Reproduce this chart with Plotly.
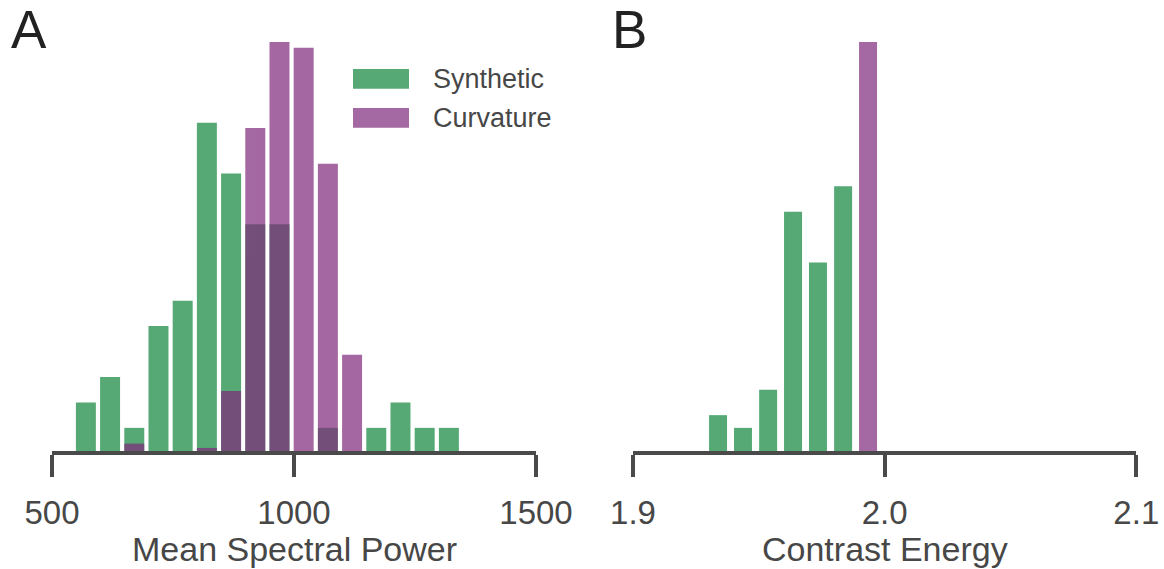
import plotly.graph_objects as go

W, H = 1164, 569

# ---- data ----
a_bin_centers = [570, 620, 670, 720, 770, 820, 870, 920, 970, 1020, 1070, 1120, 1170, 1220, 1270, 1320]
a_synthetic = [2, 3, 1, 5, 6, 13, 11, 9, 9, 0, 1, 0, 1, 2, 1, 1]
a_curvature = [0, 0, 0.38, 0, 0, 0.21, 2.45, 12.79, 16.17, 15.94, 11.38, 3.87, 0, 0, 0, 0]

b_bin_centers = [1.9338, 1.9437, 1.9537, 1.9636, 1.9735, 1.9835, 1.9934]
b_synthetic = [3, 2, 5, 19, 15, 21, 0]
b_curvature = [0, 0, 0, 0, 0, 0, 32.35]

a_ticks = [500, 1000, 1500]
b_ticks = [1.9, 2.0, 2.1]
b_ticktext = ["1.9", "2.0", "2.1"]

series_names = ["Synthetic", "Curvature"]

# ---- styles ----
GREEN = "rgb(86,168,117)"
PURPLE = "rgb(127,42,124)"
PURPLE_ALPHA = 0.71
AXIS = "#4a4a4a"
TEXT = "#474747"
FONT = "Liberation Sans"


def px_x(x):
    return x / W


def px_y(y):
    return (H - y) / H


fig = go.Figure()

fig.add_trace(go.Bar(x=a_bin_centers, y=a_synthetic, width=41.3, marker=dict(color=GREEN, line=dict(width=0)),
                     name=series_names[0], xaxis="x", yaxis="y", showlegend=False))
fig.add_trace(go.Bar(x=a_bin_centers, y=a_curvature, width=41.3, marker=dict(color=PURPLE, line=dict(width=0)),
                     opacity=PURPLE_ALPHA, name=series_names[1], xaxis="x", yaxis="y", showlegend=False))
fig.add_trace(go.Bar(x=b_bin_centers, y=b_synthetic, width=0.00715, marker=dict(color=GREEN, line=dict(width=0)),
                     name=series_names[0], xaxis="x2", yaxis="y2", showlegend=False))
fig.add_trace(go.Bar(x=b_bin_centers, y=b_curvature, width=0.00715, marker=dict(color=PURPLE, line=dict(width=0)),
                     opacity=PURPLE_ALPHA, name=series_names[1], xaxis="x2", yaxis="y2", showlegend=False))

ydom = [px_y(451), px_y(42)]
axis_common = dict(showgrid=False, zeroline=False, showline=True, linecolor=AXIS, linewidth=4,
                   ticks="outside", ticklen=22, tickwidth=4, tickcolor=AXIS, ticklabelstandoff=7,
                   tickfont=dict(family=FONT, size=33, color=TEXT), automargin=False,
                   fixedrange=True)

fig.update_layout(
    width=W, height=H,
    margin=dict(l=0, r=0, t=0, b=0, pad=0),
    paper_bgcolor="white", plot_bgcolor="white",
    barmode="overlay",
    showlegend=False,
    xaxis=dict(domain=[px_x(52), px_x(536)], range=[500, 1500], tickvals=a_ticks, anchor="y", **axis_common),
    yaxis=dict(domain=ydom, range=[0.09, 16.17], visible=False, anchor="x", fixedrange=True),
    xaxis2=dict(domain=[px_x(633), px_x(1136.3)], range=[1.9, 2.1], tickvals=b_ticks, ticktext=b_ticktext,
                anchor="y2", **axis_common),
    yaxis2=dict(domain=ydom, range=[0.18, 32.35], visible=False, anchor="x2", fixedrange=True),
)

# axis titles
for xc, txt in [(294, "Mean Spectral Power"), (884.7, "Contrast Energy")]:
    fig.add_annotation(x=px_x(xc), y=px_y(549), xref="paper", yref="paper", text=txt, showarrow=False,
                       xanchor="center", yanchor="middle", font=dict(family=FONT, size=34, color=TEXT))

# panel letters
for xl, txt in [(9, "A"), (610, "B")]:
    fig.add_annotation(x=px_x(xl), y=px_y(30), xref="paper", yref="paper", text=txt, showarrow=False,
                       xanchor="left", yanchor="middle", font=dict(family=FONT, size=53, color="#222222"))

# legend (manual, to match the wide swatches)
for (y0, y1, yc), col, op, name in [((69, 88.7, 79), GREEN, 1.0, series_names[0]),
                                    ((108, 127.7, 118), PURPLE, PURPLE_ALPHA, series_names[1])]:
    fig.add_shape(type="rect", xref="paper", yref="paper", x0=px_x(353), x1=px_x(409), y0=px_y(y1), y1=px_y(y0),
                  fillcolor=col, opacity=op, line=dict(width=0))
    fig.add_annotation(x=px_x(431), y=px_y(yc), xref="paper", yref="paper", text=name, showarrow=False,
                       xanchor="left", yanchor="middle", font=dict(family=FONT, size=27, color=TEXT))

fig.write_html("out.html", config={"displayModeBar": False, "staticPlot": True},
               post_script="document.body.style.margin='0';document.body.style.overflow='hidden';")
